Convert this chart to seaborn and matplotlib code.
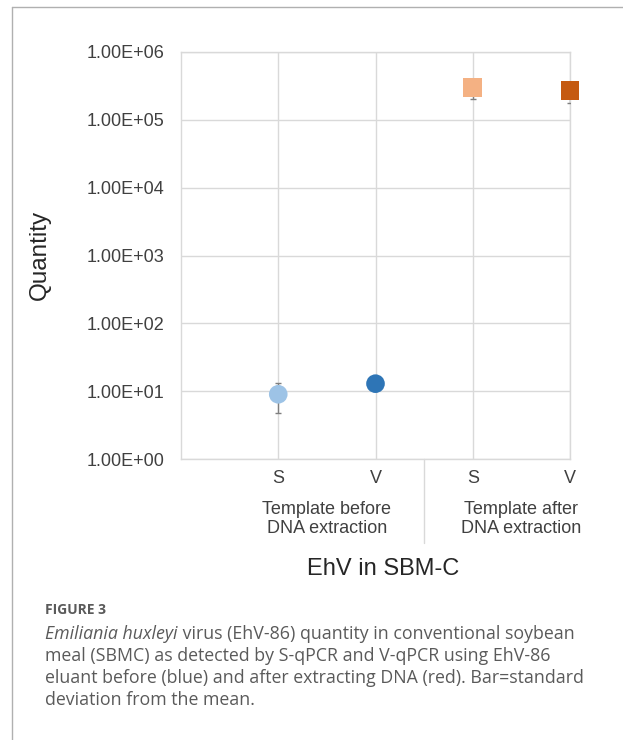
import matplotlib
matplotlib.use("Agg")
from matplotlib import pyplot as plt
from matplotlib.lines import Line2D
import matplotlib.transforms as mtransforms
import numpy as np
import pandas as pd
import seaborn as sns

# values (log scale)
probes = ["S", "V", "S", "V"]
templates = ["before", "before", "after", "after"]
quantity = [9.0, 12.9, 3.0e5, 2.7e5]
std_dev = [4.2, 0.4, 1.0e5, 0.9e5]
group_labels = ["Template before\nDNA extraction", "Template after\nDNA extraction"]
colors = ["#9dc3e6", "#2e75b6", "#f4b183", "#c55a11"]
y_ticks = [1e0, 1e1, 1e2, 1e3, 1e4, 1e5, 1e6]

df = pd.DataFrame({
    "pos": np.arange(1, len(probes) + 1),
    "probe": probes,
    "template": templates,
    "quantity": quantity,
    "sd": std_dev,
    "key": [t + "_" + p for t, p in zip(templates, probes)],
})

sns.set_style("white")
plt.rcParams["font.family"] = ["Liberation Sans", "DejaVu Sans"]

W, H = 623, 740
fig = plt.figure(figsize=(W / 100, H / 100), dpi=100)
ax = fig.add_axes([181 / W, 1 - 459 / H, (570 - 181) / W, (459 - 52) / H])

grid_c = "#d9d9d9"
for _, r in df.iterrows():
    ax.errorbar(r.pos, r.quantity, yerr=r.sd, fmt="none", ecolor="#7f7f7f",
                elinewidth=1.0, capsize=2.5, capthick=1.0, zorder=3)

pal = dict(zip(df.key, colors))
marks = {k: ("o" if k.startswith("before") else "s") for k in df.key}
sns.scatterplot(data=df, x="pos", y="quantity", hue="key", style="key",
                palette=pal, markers=marks, s=180, edgecolor="none",
                legend=False, ax=ax, zorder=4, clip_on=False)

ax.set_yscale("log")
ax.set_ylim(1e0, 1e6)
ax.set_xlim(0, len(probes))
ax.set_yticks(y_ticks)
ax.set_yticklabels(["%.2fE+%02d" % (1, int(np.log10(v))) for v in y_ticks])
ax.yaxis.set_minor_locator(matplotlib.ticker.NullLocator())
ax.set_xticks(df.pos)
ax.set_xticklabels(df.probe)
ax.tick_params(axis="y", length=0, pad=12, labelsize=13, labelcolor="#404040")
ax.tick_params(axis="x", length=0, pad=8, labelsize=13, labelcolor="#404040")
ax.grid(True, color=grid_c, linewidth=1.0)
for s in ax.spines.values():
    s.set_visible(True)
    s.set_color(grid_c)
    s.set_linewidth(1.0)
ax.set_xlabel("")
ax.set_ylabel("")

# category group labels and separator
trans = mtransforms.blended_transform_factory(ax.transData, fig.transFigure)
for i, lab in enumerate(group_labels):
    ax.text(2 * i + 1.5, 1 - 519 / H, lab, transform=trans, ha="center",
            va="center", fontsize=13, color="#404040", linespacing=1.1)
ax.add_line(Line2D([2.5, 2.5], [1 - 459 / H, 1 - 543 / H], transform=trans,
                   color=grid_c, linewidth=1.0, clip_on=False))

fig.text(383 / W, 1 - 569 / H, "EhV in SBM-C", ha="center", va="center",
         fontsize=17, color="#262626")
fig.text(40 / W, 1 - 255 / H, "Quantity", ha="center", va="center",
         rotation=90, fontsize=17.5, color="#262626")

# frame of the figure panel
fig.add_artist(Line2D([12 / W, 12 / W], [0, 1 - 7 / H], color="#b0b0b0", lw=1.0))
fig.add_artist(Line2D([12 / W, 1], [1 - 7 / H, 1 - 7 / H], color="#b0b0b0", lw=1.0))

# caption
cap_c = "#5a5a5a"
cap_font = ["Open Sans", "DejaVu Sans"]
fig.text(45 / W, 1 - 610 / H, "FIGURE 3", ha="left", va="center", fontsize=10,
         fontweight="bold", color=cap_c, family=cap_font)
t1 = fig.text(45 / W, 1 - 634 / H, "Emiliania huxleyi", ha="left", va="center",
              fontsize=12.8, style="italic", color=cap_c, family=cap_font)
fig.canvas.draw()
bb = t1.get_window_extent(fig.canvas.get_renderer())
fig.text(bb.x1 / W, 1 - 634 / H, " virus (EhV-86) quantity in conventional soybean",
         ha="left", va="center", fontsize=12.8, color=cap_c, family=cap_font)
cap_lines = [
    "meal (SBMC) as detected by S-qPCR and V-qPCR using EhV-86",
    "eluant before (blue) and after extracting DNA (red). Bar=standard",
    "deviation from the mean.",
]
for k, line in enumerate(cap_lines):
    fig.text(45 / W, 1 - (656 + 22 * k) / H, line, ha="left", va="center",
             fontsize=12.8, color=cap_c, family=cap_font)

fig.savefig("out.png", dpi=100)
